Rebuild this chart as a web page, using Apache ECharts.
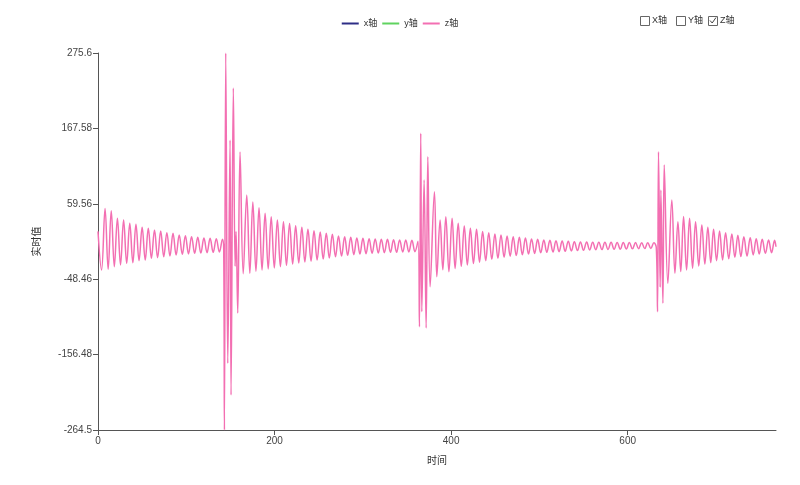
<!DOCTYPE html>
<html><head><meta charset="utf-8">
<script src="https://cdn.jsdelivr.net/npm/echarts@6/dist/echarts.min.js"></script>
<style>html,body{margin:0;padding:0;background:#fff}#c{width:800px;height:485px}</style>
</head><body><div id="c"></div>
<script>
const seriesNames = ['x轴', 'y轴', 'z轴'];
const checkLabels = ['X轴', 'Y轴', 'Z轴'];
const checkState = [false, false, true];
const xTicks = [0, 200, 400, 600];
const yTicks = [-264.5, -156.48, -48.46, 59.56, 167.58, 275.6];
const xMax = 768;

// z-axis signal, [time, value] turning points
const zSeg1 = [[0,20],[4,-35.3],[8,53],[11.5,-34.3],[15,49.7],[18.5,-30.5],[22,38.8],[25.5,-28.1],[29,36.4],[32.5,-25.7],[36,31.6],[39.5,-24.8],[43,30.2],[46.5,-21.9],[50,25.9],[53.5,-20.9],[57,24.4],[60.5,-18.6],[64,22],[67.5,-17.6],[71,20.6],[74.5,-16.2],[78,18.2],[81.5,-15.2],[85,17.3],[88.5,-13.8],[92,14.9],[95.5,-12.8],[99,13.9],[102.5,-12.3],[106,12.5],[109.5,-11.4],[113,11.5],[116.5,-10.9],[120,10.6],[123.5,-10.4],[127,10.1],[130.5,-10],[134,9.6],[137.5,-9.5],[141,8.7]];
const zBurst1 = [[142.4,-6],[143.2,-264.5],[144.7,275.6],[147,-169],[149.6,151],[150.7,-214.4],[153.3,225.5],[155.3,-30],[156.4,20],[158.3,-96.9],[160.9,133.8],[164.5,-40.6]];
const zSeg2 = [[168.5,72],[172,-40],[175.4,62],[178.9,-37],[182.4,54],[185.8,-35.3],[189.3,46],[192.8,-33.8],[196.2,41],[199.7,-32.4],[203.2,36.5],[206.6,-30.5],[210.1,34],[213.5,-28.6],[217,31.5],[220.5,-26.7],[223.9,28],[227.4,-25.2],[230.9,26],[234.3,-23.8],[237.8,23],[241.3,-22.4],[244.7,21],[248.2,-20.9],[251.7,19],[255.1,-19.5],[258.6,17.3],[262,-18.1],[265.5,15.8],[269,-16.2],[272.4,13.4],[275.9,-15.2],[279.4,12.5],[282.8,-14.3],[286.3,11.5],[289.8,-13.3],[293.2,10.6],[296.7,-12.3],[300.1,10.1],[303.6,-11.9],[307.1,9.6],[310.5,-11.4],[314,9.1],[317.5,-10.9],[320.9,8.7],[324.4,-10.4],[327.9,8.7],[331.3,-10],[334.8,8.2],[338.2,-10],[341.7,7.7],[345.2,-9.5],[348.6,7.7],[352.1,-9.5],[355.6,7.2],[359,-9]];
const zBurst2 = [[362.5,6],[364.1,-116.5],[365.6,160.6],[366.8,-95],[369.4,93.7],[371.7,-118.4],[373.6,127],[376.2,-59.2],[381.1,76.9],[383.8,-44.9],[387.5,36.3],[390.6,-35],[394,41],[397.5,-37.7]];
const zSeg3 = [[401.1,38.8],[404.5,-33],[408,31.6],[411.5,-30],[414.9,27.8],[418.4,-28],[421.8,24.4],[425.3,-26],[428.8,23],[432.2,-24],[435.7,19.7],[439.2,-22],[442.6,18.2],[446.1,-20],[449.6,16.3],[453,-18.5],[456.5,14.9],[460,-17],[463.4,13.4],[466.9,-15.5],[470.3,12.5],[473.8,-14.5],[477.3,11.5],[480.7,-13.5],[484.2,10.6],[487.7,-12.5],[491.1,9.1],[494.6,-11.5],[498,8.7],[501.5,-10.5],[505,7.7],[508.4,-10],[511.9,7.2],[515.4,-9.5],[518.8,6.8],[522.3,-9],[525.8,6.3],[529.2,-8.5],[532.7,5.8],[536.2,-8],[539.6,5.3],[543.1,-7.5],[546.5,5],[550,-7],[553.5,4.8],[556.9,-6.5],[560.4,4.6],[563.8,-6.2],[567.3,4.5],[570.8,-6],[574.2,4.4],[577.7,-5.8],[581.2,4.3],[584.6,-5.6],[588.1,4.2],[591.6,-5.4],[595,4.1],[598.5,-5.2],[601.9,4],[605.4,-5],[608.9,4],[612.3,-4.8],[615.8,3.9],[619.3,-4.6],[622.7,3.8],[626.2,-4.5],[629.7,3.8]];
const zBurst3 = [[632.4,-3],[633.8,-95],[634.9,134.2],[636.8,-60],[637.6,79.3],[639.9,-83],[641.4,115.1],[645.5,-54.3]];
const zSeg4 = [[650,65],[653.5,-40],[656.9,34],[660.1,-37.6],[663.3,41.2],[666.7,-35.2],[670.1,38.8],[673.5,-32.9],[676.9,34],[680.5,-29.5],[684,29.2],[687.4,-26.6],[690.8,25.9],[694.1,-24.7],[697.3,23],[700.7,-21.9],[704.1,20.6],[707.5,-20.9],[710.9,18.2],[714.5,-19],[718,16.3],[721.4,-17.1],[724.8,14.4],[728.2,-16.1],[731.6,12.5],[735.2,-15.2],[738.8,11.1],[742.2,-13.8],[745.6,9.6],[749,-12.3],[752.4,8.7],[756,-11.4],[759.6,7.7],[763,-10.5],[766.4,7.2],[768,-2]];

const xSeries = [];
const ySeries = [];
const zSeries = [].concat(zSeg1, zBurst1, zSeg2, zBurst2, zSeg3, zBurst3, zSeg4);

const colors = ['#2e2e86', '#5fd35f', '#f36fb2'];
const font = 'Liberation Sans, "Noto Sans CJK SC", sans-serif';

const chart = echarts.init(document.getElementById('c'));

const checkX = [640, 676, 708];
const graphics = [];
checkLabels.forEach(function (lab, i) {
  graphics.push({type: 'rect', left: checkX[i], top: 16, shape: {width: 9, height: 9},
    style: {fill: '#fff', stroke: '#666', lineWidth: 1}});
  graphics.push({type: 'text', x: checkX[i] + 12, y: 21,
    style: {text: lab, fill: '#333', font: '9px ' + font, verticalAlign: 'middle', textVerticalAlign: 'middle'}});
  if (checkState[i]) {
    graphics.push({type: 'polyline', shape: {points: [[checkX[i] + 2, 20.5], [checkX[i] + 4.2, 23], [checkX[i] + 8, 17.5]]},
      style: {stroke: '#444', lineWidth: 1, fill: null}});
  }
});

chart.setOption({
  animation: false,
  color: colors,
  textStyle: {fontFamily: font},
  grid: {left: 98, right: 24, top: 53, bottom: 55},
  legend: {
    top: 14, left: 'center', icon: 'rect', itemWidth: 17, itemHeight: 2, itemGap: 5,
    textStyle: {fontSize: 9, color: '#333', fontFamily: font},
    data: seriesNames
  },
  graphic: graphics,
  xAxis: {
    type: 'value', min: 0, max: xMax,
    name: '时间', nameLocation: 'middle', nameGap: 26,
    nameTextStyle: {fontSize: 10, color: '#333'},
    axisLine: {onZero: false, lineStyle: {color: '#555', width: 1}},
    axisTick: {show: true, length: 5, customValues: xTicks, lineStyle: {color: '#555'}},
    axisLabel: {customValues: xTicks, fontSize: 10, color: '#444', margin: 6},
    splitLine: {show: false}
  },
  yAxis: {
    type: 'value', min: yTicks[0], max: yTicks[yTicks.length - 1],
    name: '实时值', nameLocation: 'middle', nameRotate: 90, nameGap: 56,
    nameTextStyle: {fontSize: 10, color: '#333'},
    axisLine: {show: true, lineStyle: {color: '#555', width: 1}},
    axisTick: {show: true, length: 5, customValues: yTicks, lineStyle: {color: '#555'}},
    axisLabel: {customValues: yTicks, fontSize: 10, color: '#444', margin: 6,
      formatter: function (v) { return String(Math.round(v * 100) / 100); }},
    splitLine: {show: false}
  },
  series: [
    {name: seriesNames[0], type: 'line', data: xSeries, showSymbol: false},
    {name: seriesNames[1], type: 'line', data: ySeries, showSymbol: false},
    {name: seriesNames[2], type: 'line', data: zSeries, showSymbol: false, smooth: 0.4,
      lineStyle: {width: 1.5, color: colors[2]}}
  ]
});
</script>
</body></html>
